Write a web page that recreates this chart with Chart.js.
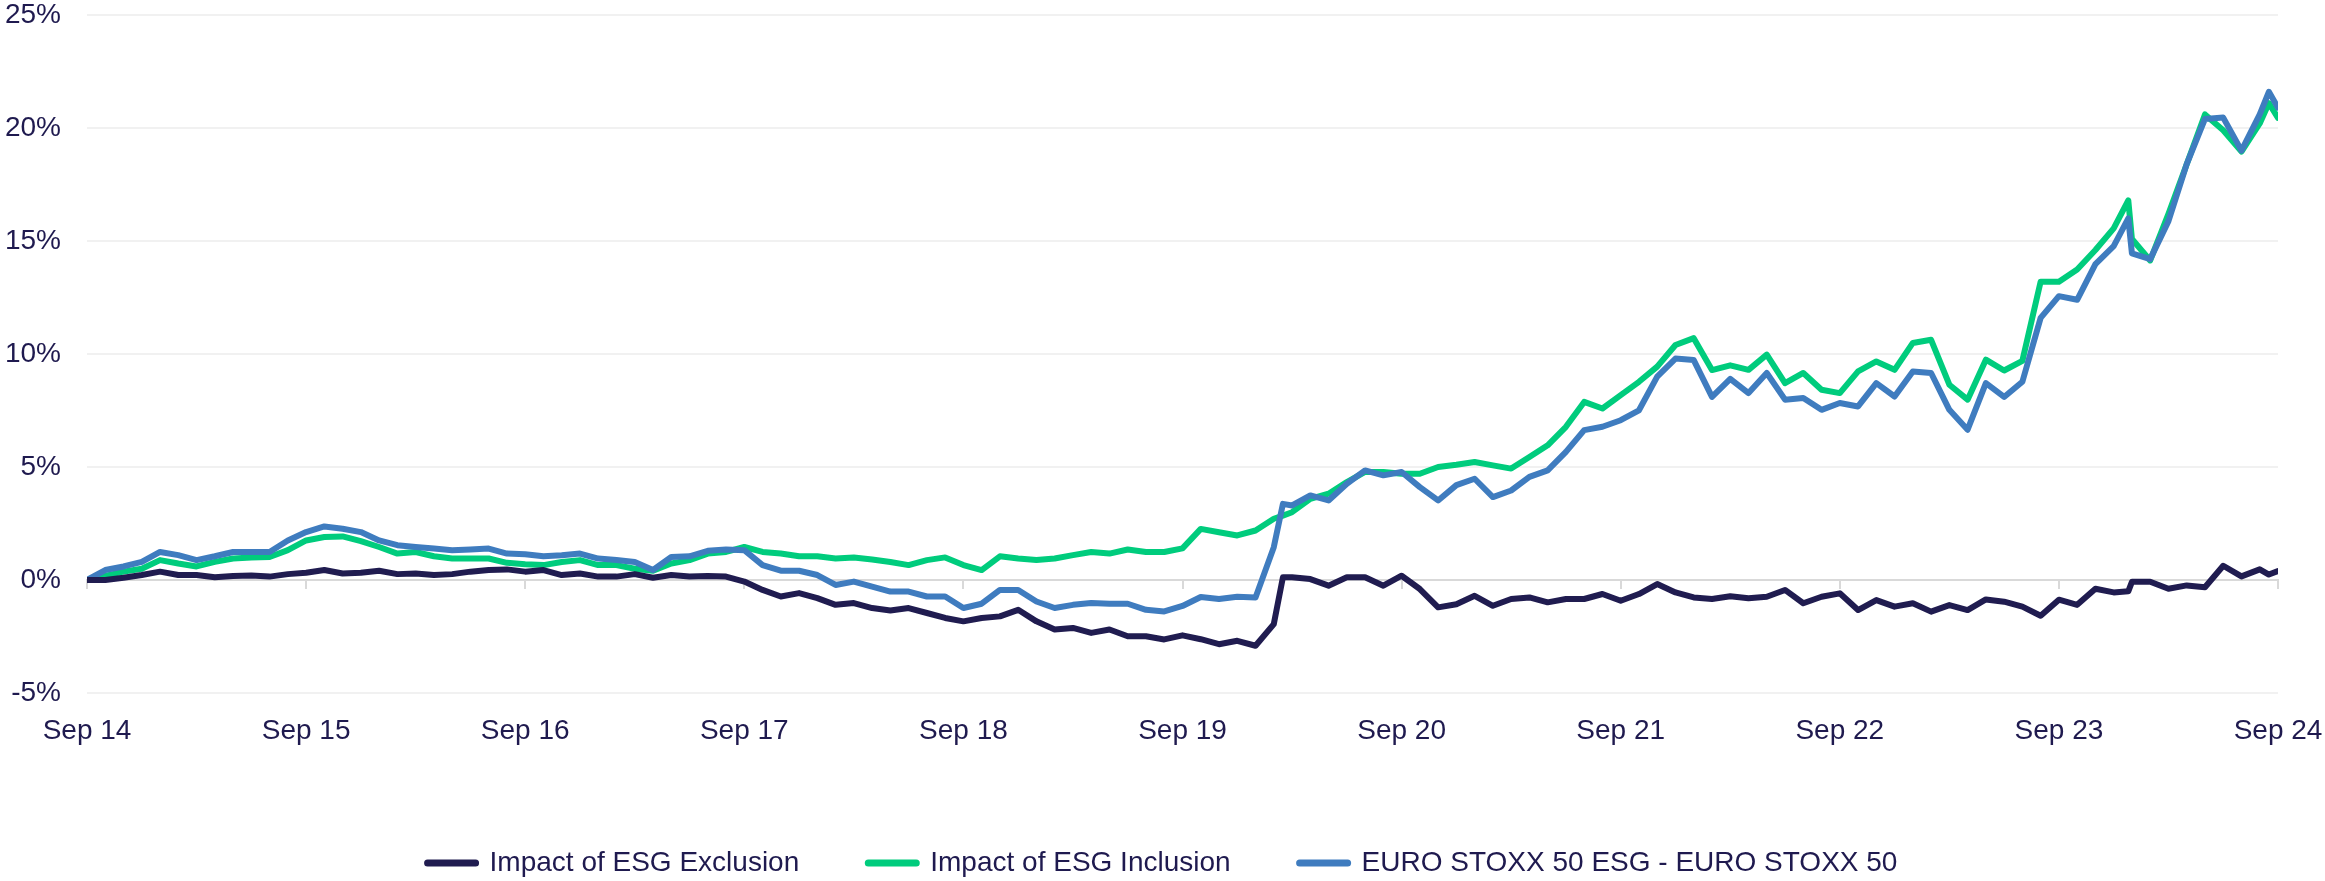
<!DOCTYPE html>
<html>
<head>
<meta charset="utf-8">
<title>ESG impact</title>
<script src="https://cdn.jsdelivr.net/npm/chart.js@4.4.1/dist/chart.umd.min.js"></script>
<style>
    body { margin: 0; background: #fff; }
    .chart-box { width: 2325px; height: 881px; }
</style>
</head>
<body>
<div class="chart-box"><canvas id="esgChart"></canvas></div>
<script>
// months since Sep 2014
var months = [
    0, 1, 2, 3, 4, 5, 6, 7, 8, 9, 10, 11, 12, 13, 14, 15, 16, 17, 18, 19,
    20, 21, 22, 23, 24, 25, 26, 27, 28, 29, 30, 31, 32, 33, 34, 35, 36, 37, 38, 39,
    40, 41, 42, 43, 44, 45, 46, 47, 48, 49, 50, 51, 52, 53, 54, 55, 56, 57, 58, 59,
    60, 61, 62, 63, 64, 65, 65.5, 66, 67, 68, 69, 70, 71, 72, 73, 74, 75, 76, 77, 78, 79,
    80, 81, 82, 83, 84, 85, 86, 87, 88, 89, 90, 91, 92, 93, 94, 95, 96, 97, 98, 99,
    100, 101, 102, 103, 104, 105, 106, 107, 108, 109, 110, 111, 111.8, 112, 113, 114, 115, 116, 117, 118, 119, 119.5, 120,
];

var exclusion = [
    0, 0, 0.1, 0.22, 0.37, 0.22, 0.22, 0.12, 0.18, 0.2, 0.15, 0.26, 0.32, 0.44, 0.29, 0.32, 0.41, 0.26, 0.29, 0.22,
    0.26, 0.37, 0.44, 0.47, 0.37, 0.44, 0.22, 0.29, 0.15, 0.15, 0.26, 0.1, 0.22, 0.15, 0.18, 0.15, -0.07, -0.44, -0.73, -0.58,
    -0.8, -1.1, -1.02, -1.24, -1.35, -1.24, -1.46, -1.68, -1.83, -1.68, -1.61, -1.32, -1.83, -2.19, -2.12, -2.34, -2.19, -2.49, -2.49, -2.63,
    -2.45, -2.62, -2.84, -2.69, -2.91, -1.95, 0.12, 0.12, 0.04, -0.25, 0.12, 0.12, -0.25, 0.19, -0.4, -1.21, -1.07, -0.7, -1.14, -0.84, -0.77,
    -0.99, -0.84, -0.84, -0.62, -0.92, -0.62, -0.18, -0.55, -0.77, -0.84, -0.72, -0.81, -0.74, -0.44, -1.03, -0.74, -0.59, -1.33, -0.89, -1.18,
    -1.03, -1.4, -1.11, -1.33, -0.86, -0.96, -1.18, -1.58, -0.87, -1.1, -0.39, -0.55, -0.5, -0.08, -0.08, -0.39, -0.24, -0.32, 0.63, 0.16, 0.47, 0.24, 0.4,
];

var inclusion = [
    0, 0.18, 0.37, 0.5, 0.88, 0.73, 0.6, 0.8, 0.95, 1.0, 1.02, 1.32, 1.75, 1.9, 1.93, 1.72, 1.46, 1.17, 1.24, 1.05,
    0.95, 0.95, 0.95, 0.76, 0.7, 0.66, 0.8, 0.88, 0.66, 0.66, 0.5, 0.41, 0.73, 0.88, 1.17, 1.24, 1.46, 1.24, 1.17, 1.05,
    1.05, 0.95, 1.0, 0.91, 0.8, 0.66, 0.88, 1.0, 0.66, 0.44, 1.05, 0.95, 0.88, 0.95, 1.1, 1.24, 1.17, 1.35, 1.24, 1.24,
    1.4, 2.26, 2.11, 1.97, 2.19, 2.71, 2.85, 3.0, 3.59, 3.82, 4.33, 4.78, 4.78, 4.7, 4.7, 5.0, 5.1, 5.22, 5.07, 4.93, 5.44,
    5.96, 6.78, 7.88, 7.59, 8.18, 8.77, 9.44, 10.4, 10.7, 9.29, 9.5, 9.3, 9.97, 8.71, 9.16, 8.42, 8.27, 9.23, 9.67, 9.3,
    10.49, 10.63, 8.64, 7.98, 9.75, 9.27, 9.7, 13.2, 13.2, 13.74, 14.6, 15.56, 16.8, 15.09, 14.14, 16.2, 18.4, 20.6, 19.9, 18.96, 20.2, 21.1, 20.45,
];

var esgVsBench = [
    0, 0.44, 0.6, 0.8, 1.24, 1.1, 0.88, 1.05, 1.24, 1.24, 1.24, 1.75, 2.12, 2.37, 2.27, 2.12, 1.75, 1.54, 1.46, 1.39,
    1.32, 1.35, 1.39, 1.17, 1.14, 1.05, 1.1, 1.17, 0.95, 0.88, 0.8, 0.44, 1.02, 1.05, 1.29, 1.35, 1.32, 0.66, 0.41, 0.41,
    0.22, -0.22, -0.07, -0.29, -0.51, -0.51, -0.73, -0.73, -1.24, -1.05, -0.44, -0.44, -0.95, -1.24, -1.1, -1.02, -1.05, -1.05, -1.32, -1.39,
    -1.15, -0.75, -0.84, -0.74, -0.77, 1.45, 3.37, 3.3, 3.74, 3.52, 4.26, 4.85, 4.63, 4.78, 4.11, 3.52, 4.2, 4.48, 3.67, 3.96, 4.56,
    4.85, 5.67, 6.63, 6.78, 7.07, 7.51, 9.0, 9.8, 9.73, 8.1, 8.9, 8.27, 9.16, 7.98, 8.05, 7.53, 7.83, 7.68, 8.71, 8.12,
    9.23, 9.16, 7.53, 6.65, 8.71, 8.1, 8.77, 11.6, 12.56, 12.4, 13.98, 14.77, 16.0, 14.45, 14.2, 15.88, 18.4, 20.4, 20.46, 19.0, 20.6, 21.6, 20.9,
];

var yTicks = [-5, 0, 5, 10, 15, 20, 25];
var xTicks = [0, 12, 24, 36, 48, 60, 72, 84, 96, 108, 120];
var firstYear = 14;

var textColor = "#1f1a4f";

function points(values) {
    return months.map(function (m, i) {
        return { x: m, y: values[i] };
    });
}

function setTicks(list) {
    return function (scale) {
        scale.ticks = list.map(function (v) {
            return { value: v };
        });
    };
}

Chart.defaults.font.family = "'Liberation Sans', Arial, sans-serif";

let esgChartElem = document.querySelector("#esgChart");
let esgChart = new Chart(esgChartElem, {
    type: "line",
    data: {
        datasets: [
            {
                label: "Impact of ESG Exclusion",
                data: points(exclusion),
                borderColor: "#201c50",
                backgroundColor: "#201c50",
                order: 0,
            },
            {
                label: "Impact of ESG Inclusion",
                data: points(inclusion),
                borderColor: "#00cc7d",
                backgroundColor: "#00cc7d",
                order: 2,
            },
            {
                label: "EURO STOXX 50 ESG - EURO STOXX 50",
                data: points(esgVsBench),
                borderColor: "#3f7cbf",
                backgroundColor: "#3f7cbf",
                order: 1,
            },
        ],
    },

    options: {
        responsive: true,
        maintainAspectRatio: false,
        animation: false,
        layout: {
            padding: { top: 15, right: 0, left: 0, bottom: -6 },
        },
        elements: {
            point: { radius: 0 },
            line: {
                borderWidth: 6,
                tension: 0,
                borderJoinStyle: "round",
                borderCapStyle: "round",
            },
        },
        scales: {
            x: {
                type: "linear",
                min: 0,
                max: 120,
                afterBuildTicks: setTicks(xTicks),
                afterFit: function (scale) {
                    scale.height = 87;
                    scale.paddingLeft = 0;
                    scale.paddingRight = 47; // room for the last label
                },
                ticks: {
                    color: textColor,
                    font: { size: 28 },
                    padding: 21,
                    maxRotation: 0,
                    callback: function (val) {
                        return "Sep " + (firstYear + val / 12);
                    },
                },
                grid: { display: false, drawTicks: false },
                border: { display: false },
            },
            // axis line at 0% with the year tick marks
            zeroAxis: {
                type: "linear",
                axis: "x",
                position: { y: 0 },
                min: 0,
                max: 120,
                afterBuildTicks: setTicks(xTicks),
                ticks: { display: false },
                grid: {
                    drawOnChartArea: false,
                    drawTicks: true,
                    tickLength: 8,
                    color: "#d9d9d9",
                    lineWidth: 2,
                },
                border: { display: true, color: "#d9d9d9", width: 2 },
            },
            y: {
                min: -5,
                max: 25,
                afterBuildTicks: setTicks(yTicks),
                afterFit: function (scale) {
                    scale.width = 87;
                    scale.paddingTop = 0;
                    scale.paddingBottom = 0;
                },
                ticks: {
                    color: textColor,
                    font: { size: 28 },
                    padding: 26,
                    callback: function (val) {
                        return val + "%";
                    },
                },
                grid: {
                    drawTicks: false,
                    lineWidth: 2,
                    color: function (ctx) {
                        return ctx.tick && ctx.tick.value === 0 ? "rgba(0,0,0,0)" : "#f1f1f1";
                    },
                },
                border: { display: false },
            },
        },
        plugins: {
            legend: {
                position: "bottom",
                labels: {
                    color: textColor,
                    font: { size: 28 },
                    usePointStyle: true,
                    pointStyle: "line",
                    pointStyleWidth: 48,
                    padding: 69,
                    sort: function (a, b) {
                        return a.datasetIndex - b.datasetIndex;
                    },
                    generateLabels: function (chart) {
                        return Chart.defaults.plugins.legend.labels.generateLabels(chart).map(function (item) {
                            item.lineWidth = 7;
                            item.lineCap = "round";
                            return item;
                        });
                    },
                },
            },
            tooltip: { enabled: false },
        },
    },
});
</script>
</body>
</html>
